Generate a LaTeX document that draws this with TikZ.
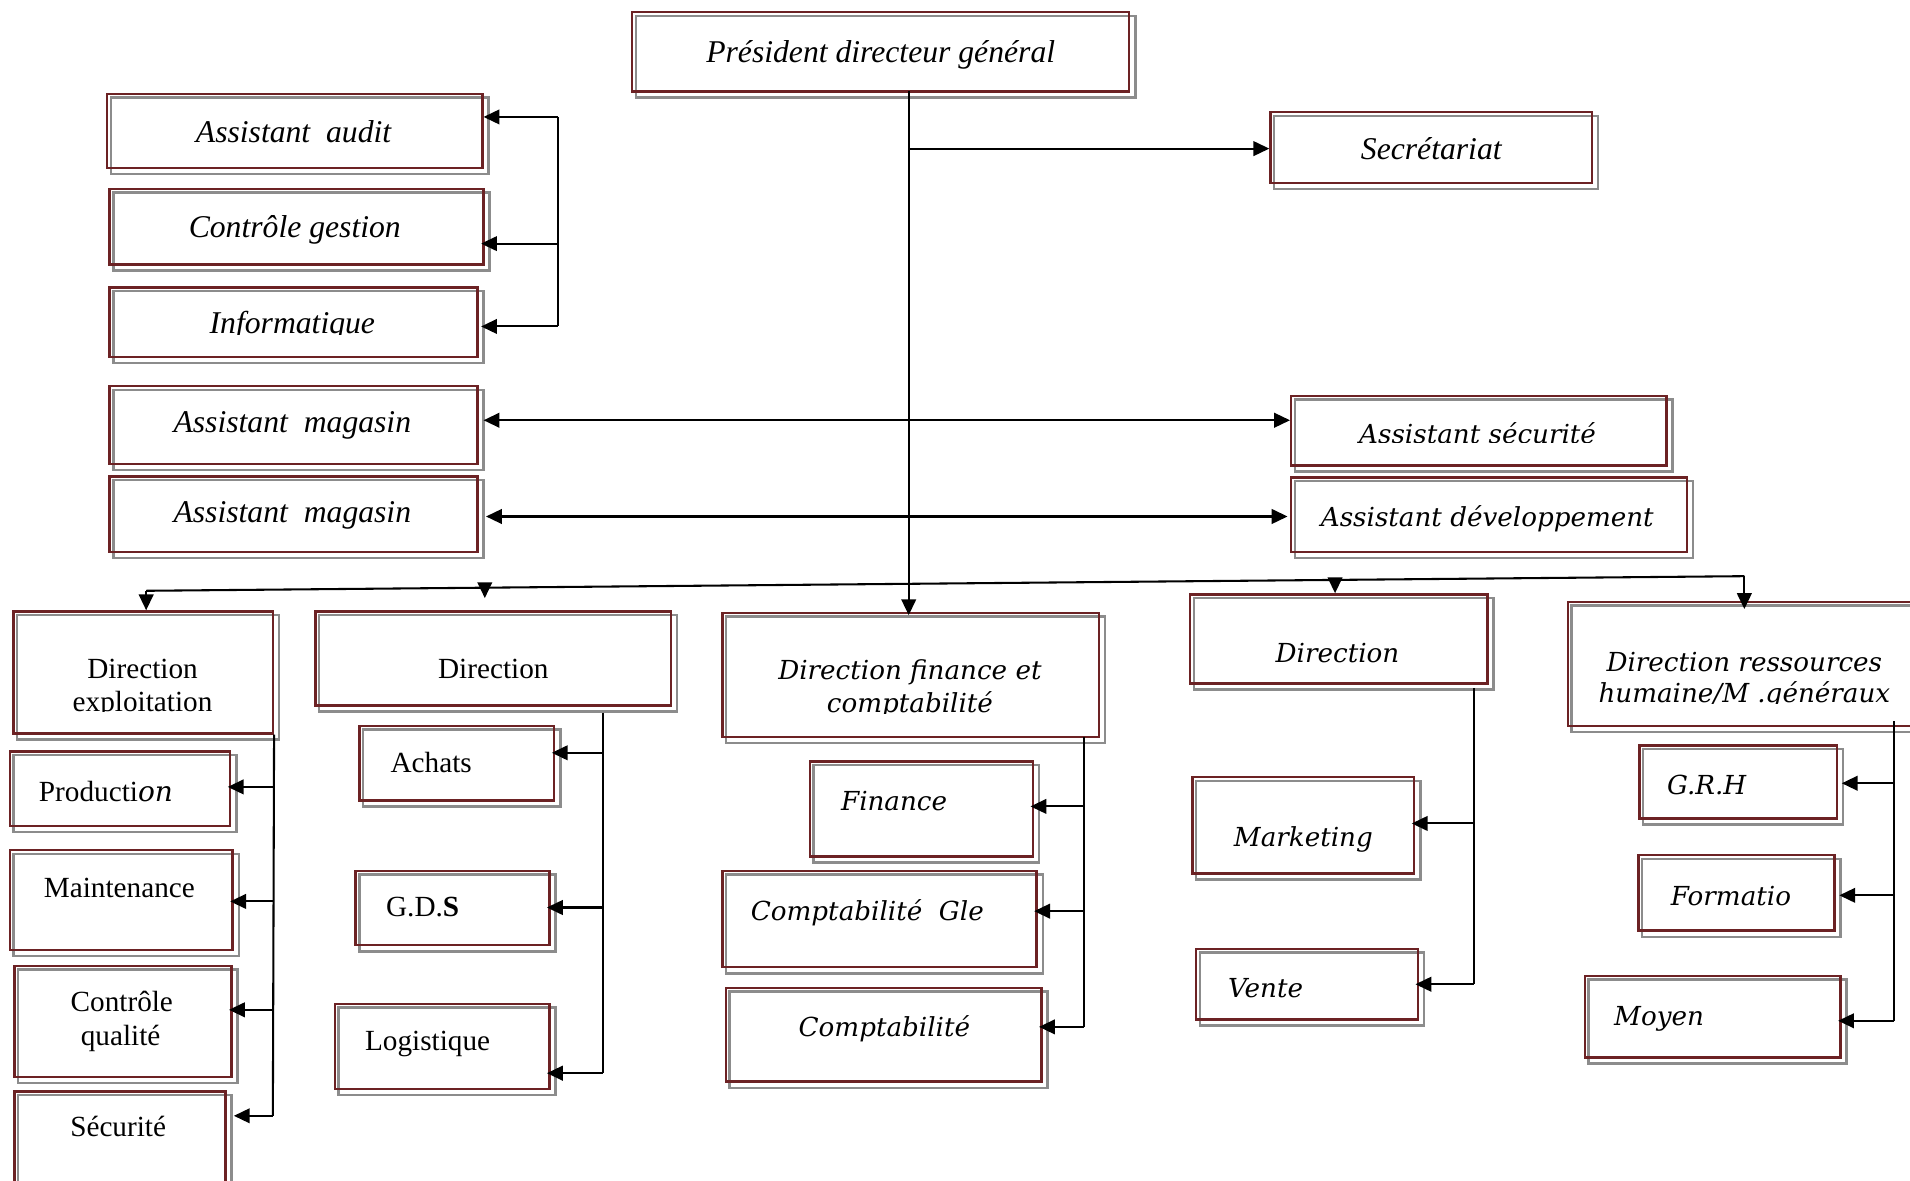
\documentclass[tikz,border=0pt]{standalone}
\usepackage{fontspec}
\setmainfont{Liberation Serif}
\newfontfamily\cambria{DejaVu Serif}
\usetikzlibrary{arrows.meta,fit,backgrounds}
\definecolor{boxred}{RGB}{108,34,36}
\definecolor{shadowgray}{RGB}{140,140,140}
\tikzset{
  box/.style={draw=boxred, line width=2pt, inner sep=0pt, rectangle},
  conn/.style={draw=black, line width=1.7pt},
  arr/.style={conn, -{Triangle[length=13pt,width=12pt]}},
  arrL/.style={arr, shorten >=-3pt},
  darr/.style={conn, {Triangle[length=13pt,width=12pt]}-{Triangle[length=13pt,width=12pt]}},
  tms/.style={font=\fontsize{24}{27}\selectfont, inner sep=0pt, anchor=base},
  tmsi/.style={font=\fontsize{26}{29}\selectfont\itshape, inner sep=0pt, anchor=base},
  cmb/.style={font=\cambria\fontsize{21.5}{25}\selectfont\itshape, inner sep=0pt, anchor=base},
}
\newcommand\orgbox[5]{\node[box, fit={(#2,#3) (#4,#5)}] (#1) {};}
\begin{document}
\begin{tikzpicture}[x=1pt,y=-1pt]
\useasboundingbox (0,0) rectangle (1568,969);
\clip (0,0) rectangle (1568,969);

% ---------- boxes ----------
\orgbox{pdg}{519}{10}{927}{75}
\orgbox{sec}{1043}{92}{1307}{150}
\orgbox{aud}{88}{77}{396}{138}
\orgbox{cg}{90}{155}{397}{217}
\orgbox{info}{90}{236}{392}{293}
\orgbox{am1}{90}{317}{392}{381}
\orgbox{am2}{90}{391}{392}{453}
\orgbox{asec}{1060}{325}{1368}{382}
\orgbox{adev}{1060}{392}{1385}{453}
\orgbox{dexp}{11}{502}{224}{602}
\orgbox{ddir}{259}{502}{551}{579}
\orgbox{dfin}{593}{503}{902}{605}
\orgbox{dmkt}{977}{488}{1221}{561}
\orgbox{drh}{1287}{494}{1600}{596}
\orgbox{prod}{8}{617}{189}{678}
\orgbox{maint}{8}{698}{191}{780}
\orgbox{cq}{12}{793}{190}{884}
\orgbox{secu}{12}{896}{185}{990}
\orgbox{ach}{295}{596}{455}{657}
\orgbox{gds}{292}{715}{451}{776}
\orgbox{log}{275}{824}{451}{894}
\orgbox{fin}{665}{625}{848}{703}
\orgbox{cgle}{593}{715}{851}{794}
\orgbox{cpt}{596}{811}{855}{888}
\orgbox{mkt}{979}{638}{1161}{717}
\orgbox{vente}{982}{779}{1164}{837}
\orgbox{grh}{1346}{612}{1508}{672}
\orgbox{form}{1345}{702}{1506}{764}
\orgbox{moy}{1301}{801}{1511}{868}

% grey offset frames behind every box
\begin{scope}[on background layer]
\foreach \n in {pdg,sec,aud,cg,info,am1,am2,asec,adev,dexp,ddir,dfin,dmkt,drh,
                prod,maint,cq,secu,ach,gds,log,fin,cgle,cpt,mkt,vente,grh,form,moy}
  \draw[shadowgray, line width=2pt]
    ([shift={(4,4)}]\n.north west) rectangle ([shift={(4,4)}]\n.south east);
\end{scope}

% ---------- labels ----------
\node[tmsi] (t-pdg) at (723,51) {Président directeur général};
\node[tmsi] (t-sec) at (1175,131) {Secrétariat};
\node[tmsi] (t-aud) at (241,117) {Assistant\ \ audit};
\node[tmsi] (t-cg) at (242,195) {Contrôle gestion};
\begin{scope}
  \clip (90,236) rectangle (392,274.5);
  \node[tmsi] (t-info) at (240,274) {Informatique};
\end{scope}
\node[tmsi] (t-am1) at (240,355) {Assistant\ \ magasin};
\node[tmsi] (t-am2) at (240,429) {Assistant\ \ magasin};
\begin{scope}
  \clip (1060,325) rectangle (1368,363.5);
  \node[cmb] (t-asec) at (1213,364) {Assistant sécurité};
\end{scope}
\node[cmb] (t-adev) at (1221,432) {Assistant développement};

\node[tms] (t-dexp1) at (117,557) {Direction};
\begin{scope}
  \clip (11,560) rectangle (224,584.5);
  \node[tms] (t-dexp2) at (117,584) {exploitation};
\end{scope}
\node[tms] (t-ddir) at (405,557) {Direction};
\node[cmb] (t-dfin1) at (747,558) {Direction finance et};
\begin{scope}
  \clip (593,562) rectangle (902,585.5);
  \node[cmb] (t-dfin2) at (747,585) {comptabilité};
\end{scope}
\node[cmb] (t-dmkt) at (1098,544) {Direction};
\node[cmb] (t-drh1) at (1432,551) {Direction ressources};
\begin{scope}
  \clip (1287,555) rectangle (1568,577.5);
  \node[cmb] (t-drh2) at (1432,577) {humaine/M .généraux};
\end{scope}

\node[tms] (t-prod) at (87,658) {Producti{\cambria\itshape\fontsize{23}{27}\selectfont on}};
\node[tms] (t-maint) at (98,737) {Maintenance};
\node[tms] (t-cq1) at (100,830) {Contrôle};
\node[tms] (t-cq2) at (99,858) {qualité};
\node[tms] (t-secu) at (97,933) {Sécurité};

\node[tms] (t-ach) at (354,634) {Achats};
\node[tms] (t-gds) at (347,752) {G.D.\textbf{S}};
\node[tms] (t-log) at (351,862) {Logistique};

\node[cmb] (t-fin) at (734,665) {Finance};
\node[cmb] (t-cgle) at (712,756) {Comptabilité\ \ Gle};
\node[cmb] (t-cpt) at (726,851) {Comptabilité};

\node[cmb] (t-mkt) at (1070,695) {Marketing};
\node[cmb] (t-vente) at (1039,819) {Vente};

\node[cmb] (t-grh) at (1401,652) {G.R.H};
\node[cmb] (t-form) at (1421,743) {Formatio};
\node[cmb] (t-moy) at (1362,842) {Moyen};

% ---------- connectors ----------
% main spine from the president down to the finance direction
\coordinate (m0) at (746,75);
\coordinate (m1) at (746,505);
\draw[arr] (m0) -- (m1);
\coordinate (ms) at (746,122);
\draw[arr] (ms) -- (sec.west |- ms);

% staff bracket on the left
\coordinate (b0) at (458,96);
\coordinate (b1) at (458,200);
\coordinate (b2) at (458,268);
\draw[conn] (b0) -- (b2);
\draw[arr] (b0) -- (aud.east |- b0);
\draw[arrL] (b1) -- (cg.east |- b1);
\draw[arr] (b2) -- ([xshift=2pt]info.east |- b2);

% assistants linked on both sides
\coordinate (h1) at (746,345);
\coordinate (h2) at (746,424);
\draw[darr] ([xshift=4pt]am1.east |- h1) -- (asec.west |- h1);
\draw[darr] ([xshift=6pt]am2.east |- h2) -- ([xshift=-2pt]adev.west |- h2);

% distribution line to the directions
\coordinate (d0) at (120,485);
\coordinate (d1) at (398,482.5);
\coordinate (d3) at (1096,476);
\coordinate (d4) at (1432,473);
\draw[conn] (d0) -- (d4);
\draw[arr] (d0) -- (dexp.north -| d0);
\draw[arr] (d1) -- ([yshift=10pt]ddir.north -| d1);
\draw[arr] (d3) -- (dmkt.north -| d3);
\draw[arr] (d4) -- ([yshift=-7pt]drh.north -| d4);

% exploitation branch
\coordinate (e1) at (224,646);
\coordinate (e2) at (224,740);
\coordinate (e3) at (224,829);
\coordinate (e4) at (224,916);
\draw[conn] (dexp.south east) -- (e4);
\draw[arrL] (e1) -- (prod.east |- e1);
\draw[arrL] (e2) -- (maint.east |- e2);
\draw[arrL] (e3) -- (cq.east |- e3);
\draw[arr] (e4) -- ([xshift=6pt]secu.east |- e4);

% purchasing branch
\coordinate (p0) at (495,585);
\coordinate (p1) at (495,618);
\coordinate (p2) at (495,745);
\coordinate (p3) at (495,881);
\draw[conn] (p0) -- (p3);
\draw[arrL] (p1) -- (ach.east |- p1);
\draw[arrL] (p2) -- (gds.east |- p2);
\draw[arrL] (p3) -- (log.east |- p3);

% finance branch
\coordinate (f0) at (890,605);
\coordinate (f1) at (890,662);
\coordinate (f2) at (890,748);
\coordinate (f3) at (890,843);
\draw[conn] (f0) -- (f3);
\draw[arrL] (f1) -- (fin.east |- f1);
\draw[arrL] (f2) -- (cgle.east |- f2);
\draw[arrL] (f3) -- (cpt.east |- f3);

% marketing branch
\coordinate (k0) at (1210,565);
\coordinate (k1) at (1210,676);
\coordinate (k2) at (1210,808);
\draw[conn] (k0) -- (k2);
\draw[arrL] (k1) -- (mkt.east |- k1);
\draw[arrL] (k2) -- (vente.east |- k2);

% human resources branch
\coordinate (r0) at (1555,592);
\coordinate (r1) at (1555,643);
\coordinate (r2) at (1555,735);
\coordinate (r3) at (1555,838);
\draw[conn] (r0) -- (r3);
\draw[arrL] (r1) -- ([xshift=6pt]grh.east |- r1);
\draw[arrL] (r2) -- ([xshift=6pt]form.east |- r2);
\draw[arrL] (r3) -- (moy.east |- r3);
\end{tikzpicture}
\end{document}
